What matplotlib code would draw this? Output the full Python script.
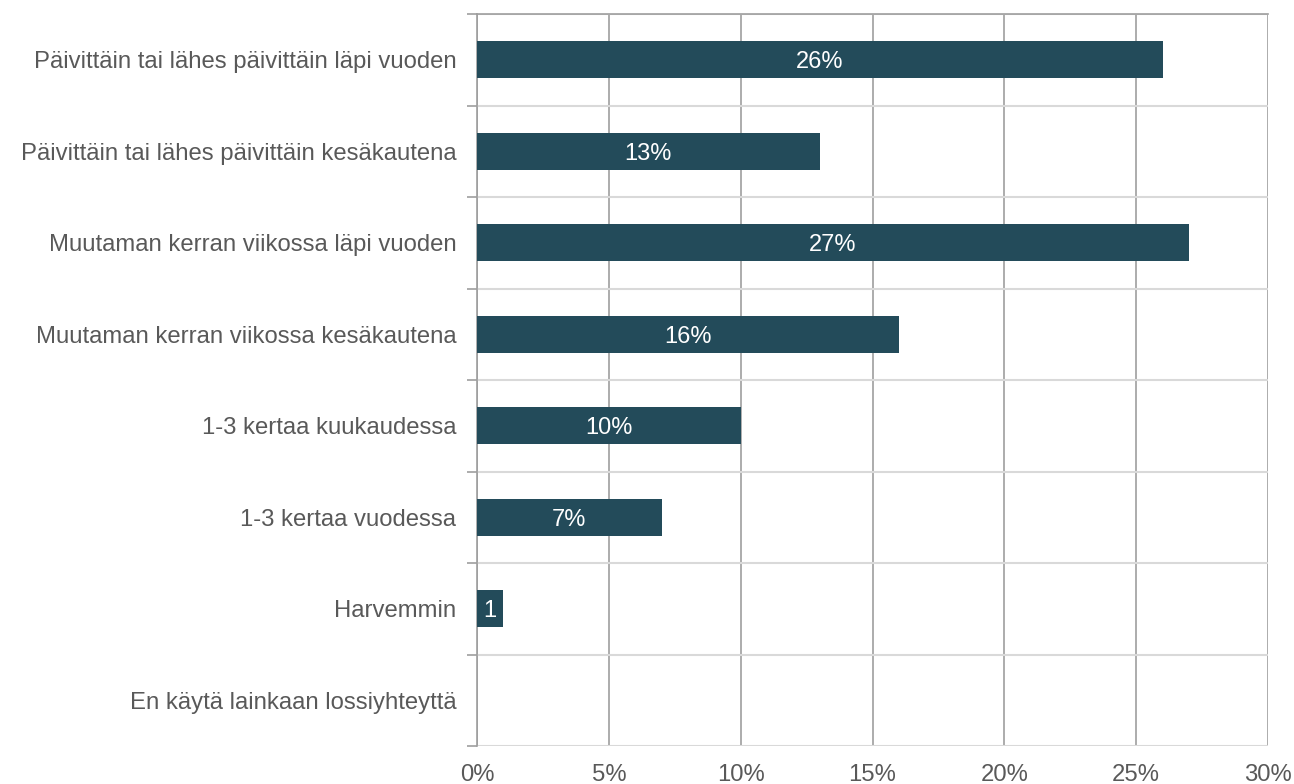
import matplotlib
matplotlib.use("Agg")
import matplotlib.pyplot as plt
import numpy as np

categories = [
    "Päivittäin tai lähes päivittäin läpi vuoden",
    "Päivittäin tai lähes päivittäin kesäkautena",
    "Muutaman kerran viikossa läpi vuoden",
    "Muutaman kerran viikossa kesäkautena",
    "1-3 kertaa kuukaudessa",
    "1-3 kertaa vuodessa",
    "Harvemmin",
    "En käytä lainkaan lossiyhteyttä",
]
values = [26, 13, 27, 16, 10, 7, 1, 0]
bar_labels = ["26%", "13%", "27%", "16%", "10%", "7%", "1", ""]
xticks = [0, 5, 10, 15, 20, 25, 30]
xticklabels = ["0%", "5%", "10%", "15%", "20%", "25%", "30%"]

plt.rcParams['font.family'] = ['Liberation Sans', 'DejaVu Sans']

fig = plt.figure(figsize=(12.94, 7.84), dpi=100)
ax = fig.add_axes([477/1294, 1-746/784, (1268-477)/1294, (746-14)/784])

n = len(categories)
y = np.arange(n)
bar_color = "#234B5A"
ax.barh(y, values, height=0.4, color=bar_color, zorder=3)

for yi, v, lab in zip(y, values, bar_labels):
    if lab:
        ax.text(v/2, yi, lab, ha="center", va="center_baseline", color="white",
                fontsize=17, zorder=4)

ax.set_xlim(0, 30)
ax.set_ylim(n-0.5, -0.5)
ax.set_xticks(xticks)
ax.set_xticklabels(xticklabels)
ax.set_yticks(y)
ax.set_yticklabels(categories)

# separators
ax.set_yticks(np.arange(-0.5, n, 1), minor=True)
ax.grid(axis="y", which="minor", color="#D9D9D9", linewidth=1.5, zorder=1)
ax.grid(axis="x", which="major", color="#9E9E9E", linewidth=1.2, zorder=2)
ax.grid(axis="y", which="major", visible=False)

ax.tick_params(axis="y", which="major", length=0, pad=15, labelsize=17.2, labelcolor="#595959")
ax.tick_params(axis="y", which="minor", length=7, color="#9E9E9E", width=1.2)
ax.tick_params(axis="x", which="major", length=0, pad=13, labelsize=17.2, labelcolor="#595959")

for s in ["right", "bottom"]:
    ax.spines[s].set_visible(False)
ax.spines["left"].set_color("#9E9E9E")
ax.spines["left"].set_linewidth(1.2)
ax.spines["top"].set_color("#9E9E9E")
ax.spines["top"].set_linewidth(1.2)
ax.set_axisbelow(True)

fig.savefig("out.png", dpi=100, facecolor="white")
